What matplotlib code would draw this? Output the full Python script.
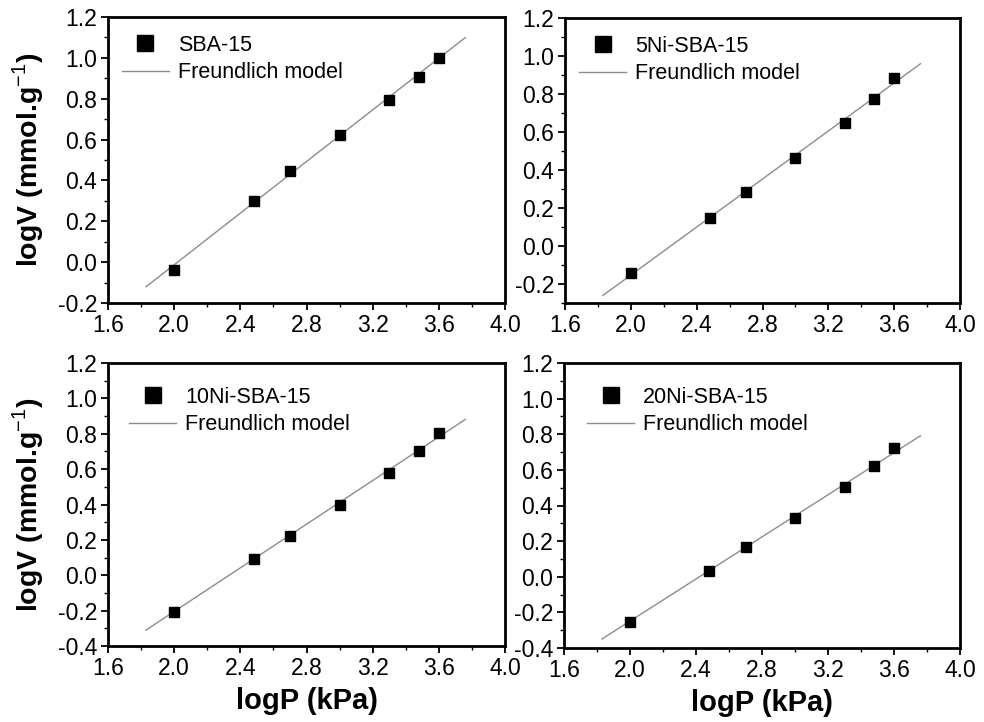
import matplotlib
matplotlib.use("Agg")
import matplotlib.pyplot as plt
import numpy as np
from matplotlib.ticker import MultipleLocator, FormatStrFormatter

plt.rcParams['font.family'] = ['Liberation Sans', 'DejaVu Sans']
plt.rcParams['mathtext.fontset'] = 'custom'
plt.rcParams['mathtext.rm'] = 'Liberation Sans'
plt.rcParams['mathtext.bf'] = 'Liberation Sans:bold'

samples = ["SBA-15", "5Ni-SBA-15", "10Ni-SBA-15", "20Ni-SBA-15"]
logP = [2.0, 2.48, 2.7, 3.0, 3.3, 3.48, 3.6]
logV_sba15 = [-0.04, 0.30, 0.445, 0.62, 0.795, 0.905, 1.0]
logV_5ni = [-0.14, 0.15, 0.285, 0.465, 0.65, 0.775, 0.885]
logV_10ni = [-0.21, 0.09, 0.22, 0.395, 0.58, 0.70, 0.805]
logV_20ni = [-0.255, 0.035, 0.165, 0.33, 0.505, 0.62, 0.725]
series = [logV_sba15, logV_5ni, logV_10ni, logV_20ni]

# Freundlich fit: logV = slope*logP + intercept
fit_slope = [0.632, 0.632, 0.617, 0.591]
fit_intercept = [-1.277, -1.417, -1.439, -1.431]
fit_range = [1.83, 3.76]

ylims = [(-0.2, 1.2), (-0.3, 1.2), (-0.4, 1.2), (-0.4, 1.2)]
xticks = [1.6, 2.0, 2.4, 2.8, 3.2, 3.6, 4.0]

W, H = 984, 722
fig = plt.figure(figsize=(W/100, H/100), dpi=100)
# pixel boxes: left, top, right, bottom
boxes = [(108, 17, 505, 303), (565, 18, 960, 303), (108, 363, 505, 646), (564, 363, 960, 648)]
legend_anchor = [(-0.014, 1.005), (-0.014, 1.005), (0.004, 0.984), (0.009, 0.984)]

for i, (l, t, r, b) in enumerate(boxes):
    ax = fig.add_axes([l/W, 1 - b/H, (r-l)/W, (b-t)/H])
    xl = np.linspace(fit_range[0], fit_range[1], 50)
    ax.plot(xl, fit_slope[i]*xl + fit_intercept[i], color='#8c8c8c', lw=1.0,
            label='Freundlich model', zorder=2)
    ax.plot(logP, series[i], 's', color='black', ms=7, ls='none',
            label=samples[i], zorder=3)
    ax.set_xlim(1.6, 4.0)
    ax.set_ylim(*ylims[i])
    ax.set_xticks(xticks)
    ax.xaxis.set_minor_locator(MultipleLocator(0.2))
    ax.yaxis.set_major_locator(MultipleLocator(0.2))
    ax.yaxis.set_minor_locator(MultipleLocator(0.1))
    ax.xaxis.set_major_formatter(FormatStrFormatter('%.1f'))
    ax.yaxis.set_major_formatter(FormatStrFormatter('%.1f'))
    ax.tick_params(which='major', direction='out', length=5, width=1.3,
                   labelsize=16.5, pad=3, top=False, right=False)
    ax.tick_params(which='minor', direction='out', length=3, width=1.0,
                   top=False, right=False)
    for s in ax.spines.values():
        s.set_linewidth(2.0)
    h, lab = ax.get_legend_handles_labels()
    leg = ax.legend([h[1], h[0]], [lab[1], lab[0]], loc='upper left',
                    bbox_to_anchor=legend_anchor[i], frameon=False, fontsize=15.5,
                    handlelength=2.2, handletextpad=0.4, labelspacing=0.3,
                    markerscale=1.6)
    if i in (0, 2):
        ax.set_ylabel('logV (mmol.g$^{\\mathrm{-1}}$)', fontsize=20.5,
                      fontweight='bold', labelpad=8)
    if i in (2, 3):
        ax.set_xlabel('logP (kPa)', fontsize=21, fontweight='bold', labelpad=5)

fig.savefig('out.png', dpi=100)
